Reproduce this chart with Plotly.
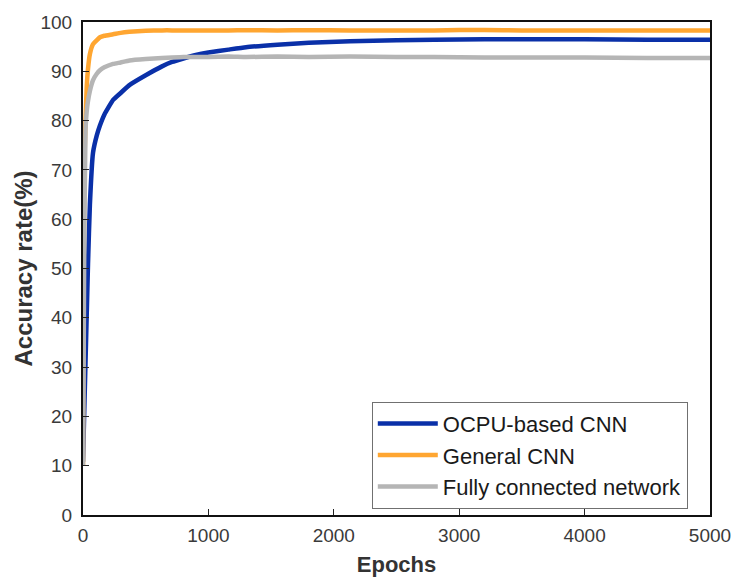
import plotly.graph_objects as go

epochs = [0, 5, 10, 20, 30, 40, 55, 80, 110, 135, 170, 240, 300, 370, 500, 630, 710,
          800, 900, 1000, 1160, 1300, 1550, 1800, 2130, 2500, 2800, 3200, 3500, 4000, 4500, 5000]

ocpu_cnn = [10.8, 16, 21, 31, 41, 51, 63, 73.5, 77, 79, 81.2, 84.2, 85.6, 87.2, 89.2, 91.0, 91.9,
            92.6, 93.3, 93.8, 94.4, 94.9, 95.4, 95.8, 96.1, 96.3, 96.4, 96.5, 96.5, 96.5, 96.4, 96.4]

general_cnn = [10, 45, 70, 80, 87, 90.5, 93.5, 95.5, 96.3, 96.9, 97.2, 97.5, 97.8, 98.0, 98.2, 98.3, 98.3,
               98.3, 98.3, 98.3, 98.3, 98.35, 98.3, 98.35, 98.3, 98.3, 98.3, 98.4, 98.3, 98.3, 98.3, 98.3]

fully_connected = [10, 30, 55, 78, 82, 84, 86, 88.2, 89.5, 90.2, 90.8, 91.5, 91.8, 92.2, 92.5, 92.7, 92.8,
                   92.9, 92.9, 92.9, 93.0, 92.9, 93.0, 92.9, 93.0, 92.9, 92.9, 92.8, 92.8, 92.8, 92.7, 92.7]

series = [
    ("OCPU-based CNN", ocpu_cnn, "#0a30a8"),
    ("General CNN", general_cnn, "#ffa631"),
    ("Fully connected network", fully_connected, "#b5b5b5"),
]

fig = go.Figure()
for name, vals, color in series:
    fig.add_trace(go.Scatter(x=epochs, y=vals, mode="lines", name=name,
                             line=dict(color=color, width=4.5, shape="spline", smoothing=0.4)))

font_family = "Liberation Sans, Arial, sans-serif"

fig.update_layout(
    width=743, height=585,
    margin=dict(l=83, r=26, t=16, b=69),
    paper_bgcolor="white", plot_bgcolor="white",
    font=dict(family=font_family, size=19, color="#3a3a3a"),
    showlegend=True,
    legend=dict(
        x=0.4606, y=0.23, xanchor="left", yanchor="top",
        bgcolor="white", bordercolor="#707070", borderwidth=1,
        font=dict(family=font_family, size=22, color="#1a1a1a"),
        itemwidth=60, tracegroupgap=0,
    ),
    xaxis=dict(
        range=[0, 5000], tickvals=[0, 1000, 2000, 3000, 4000, 5000],
        ticks="inside", ticklen=6, tickcolor="#222222", tickwidth=1,
        showline=True, linecolor="#111111", linewidth=2, mirror=True,
        showgrid=False, zeroline=False, ticklabelstandoff=2,
        title=dict(text="<b>Epochs</b>", font=dict(size=22, color="#333333"), standoff=12),
    ),
    yaxis=dict(
        range=[0, 100], tickvals=list(range(0, 101, 10)),
        ticks="inside", ticklen=6, tickcolor="#222222", tickwidth=1,
        showline=True, linecolor="#111111", linewidth=2, mirror=True,
        showgrid=False, zeroline=False, ticklabelstandoff=5,
        title=dict(text="<b>Accuracy rate(%)</b>", font=dict(size=24, color="#333333"), standoff=1),
    ),
)

fig.write_html("out.html")
